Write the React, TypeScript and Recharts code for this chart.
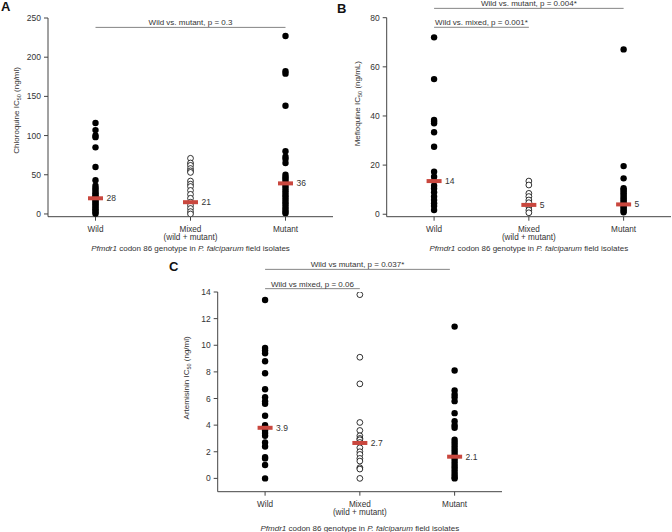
import React from 'react';
import { ScatterChart, Scatter, XAxis, YAxis, ReferenceLine } from 'recharts';

const FONT = 'Arial, "Liberation Sans", Helvetica, sans-serif';
const TEXT = '#333';
const AXIS = '#444';
const RED = '#c9473e';

const categories = ['Wild', 'Mixed', 'Mutant'];
const categoryNotes = ['', '(wild + mutant)', ''];

// A - chloroquine
const cqWild = [116, 107, 100, 98, 85, 60, 43, 36, 33, 31, 28, 26, 24, 22, 20, 18, 16, 14, 12, 10, 8, 6, 4, 2, 0];
const cqMixed = [71, 65, 62, 58, 55, 53, 42, 38, 35, 30, 25, 20, 15, 11, 7, 3, 0];
const cqMutant = [227, 182, 179, 138, 80, 73, 70, 65, 50, 47, 45, 42, 39, 36, 33, 30, 27, 24, 21, 18, 15, 12, 9, 6, 3, 1];
const cqMedians = [20, 15, 39];
const cqMedianLabels = ['28', '21', '36'];
const cqTicks = [0, 50, 100, 150, 200, 250];

// B - mefloquine
const mqWild = [72, 55, 38.4, 37.7, 37, 33.4, 27.5, 17.3, 15.3, 13.5, 11.6, 10.5, 9, 7.2, 5.8, 4.5, 3.4, 1.7];
const mqMixed = [13.5, 11.9, 8.5, 7.2, 5.8, 4.7, 3.1, 1.7, 0.6];
const mqMutant = [67.1, 19.6, 14.6, 10.6, 10, 9.3, 8.5, 7.8, 7, 6.3, 5.6, 4.9, 4.2, 3.5, 2.8, 2.1, 1.4, 0.8];
const mqMedians = [13.5, 3.8, 4];
const mqMedianLabels = ['14', '5', '5'];
const mqTicks = [0, 20, 40, 60, 80];

// C - artemisinin
const artWild = [13.4, 9.8, 9.6, 9.4, 8.8, 7.9, 6.7, 6.1, 5.8, 5.6, 4.7, 4.0, 3.6, 3.4, 3.2, 2.7, 2.4, 1.6, 1.5, 1.0, 0];
const artMixed = [13.8, 9.1, 7.1, 4.2, 3.6, 3.2, 3.0, 2.9, 2.7, 2.3, 2.0, 1.8, 1.5, 1.3, 0.8, 0.7, 0];
const artMutant = [11.4, 8.1, 6.6, 6.3, 6.1, 5.8, 4.9, 4.3, 4.0, 3.8, 2.9, 2.7, 2.5, 2.3, 2.1, 1.9, 1.7, 1.5, 1.3, 1.1, 0.9, 0.7, 0.5, 0.3, 0.1, 0];
const artMedians = [3.8, 2.66, 1.63];
const artMedianLabels = ['3.9', '2.7', '2.1'];
const artTicks = [0, 2, 4, 6, 8, 10, 12, 14];

type Pt = { x: number; y: number; label?: string };
const toPoints = (vals: number[], x: number): Pt[] => vals.map((y) => ({ x, y }));
const toMedians = (vals: number[], labels: string[]): Pt[] =>
  vals.map((y, i) => ({ x: i, y, label: labels[i] }));

const FilledDot = (p: any) => <circle cx={p.cx} cy={p.cy} r={3.2} fill="#000" />;
const OpenDot = (p: any) => (
  <circle cx={p.cx} cy={p.cy} r={2.9} fill="#fff" stroke="#000" strokeWidth={0.8} />
);
const MedianMark = (p: any) => (
  <g>
    <rect x={p.cx - 7.5} y={p.cy - 2} width={15} height={4} fill={RED} />
    <text x={p.cx + 11} y={p.cy + 3} fontSize={8.5} fill={TEXT} fontFamily={FONT}>
      {p.payload.label}
    </text>
  </g>
);

const CategoryTick = (props: any) => {
  const { x, y, payload } = props;
  const i = payload.value as number;
  return (
    <g>
      <text x={x} y={y + 9} textAnchor="middle" fontSize={8.2} fill={TEXT} fontFamily={FONT}>
        {categories[i]}
      </text>
      {categoryNotes[i] && (
        <text x={x} y={y + 17.5} textAnchor="middle" fontSize={8.2} fill={TEXT} fontFamily={FONT}>
          {categoryNotes[i]}
        </text>
      )}
    </g>
  );
};

type Comparison = { from: number; to: number; level: number; text: string };

type PanelProps = {
  letter: string;
  letterPos: [number, number];
  left: number;
  top: number;
  width: number;
  height: number;
  margin: { top: number; right: number; bottom: number; left: number };
  yAxisWidth: number;
  yDomain: [number, number];
  yTicks: number[];
  drug: string;
  unit: string;
  yTitleGap: number;
  yTitleShift: number;
  xTitleGap: number;
  wild: number[];
  mixed: number[];
  mutant: number[];
  medians: Pt[];
  comparisons: Comparison[];
};

function Panel(p: PanelProps) {
  const yTitle = (props: any) => {
    const vb = props.viewBox;
    const cx = vb.x + vb.width - p.yTitleGap;
    const cy = vb.y + vb.height / 2 + p.yTitleShift;
    return (
      <text
        x={cx}
        y={cy}
        transform={`rotate(-90, ${cx}, ${cy})`}
        textAnchor="middle"
        fontSize={8}
        fill={TEXT}
        fontFamily={FONT}
      >
        {p.drug} IC
        <tspan fontSize={5.5} dy={2}>
          50
        </tspan>
        <tspan dy={-2}> {p.unit}</tspan>
      </text>
    );
  };

  const xTitle = (props: any) => {
    const vb = props.viewBox;
    return (
      <text
        x={vb.x + vb.width / 2}
        y={vb.y + p.xTitleGap}
        textAnchor="middle"
        fontSize={8}
        fill={TEXT}
        fontFamily={FONT}
      >
        <tspan fontStyle="italic">Pfmdr1</tspan> codon 86 genotype in{' '}
        <tspan fontStyle="italic">P. falciparum</tspan> field isolates
      </text>
    );
  };

  return (
    <div style={{ position: 'absolute', left: p.left, top: p.top, width: p.width, height: p.height }}>
      <div
        style={{
          position: 'absolute',
          left: p.letterPos[0],
          top: p.letterPos[1],
          fontFamily: FONT,
          fontWeight: 'bold',
          fontSize: 13,
          lineHeight: '13px',
          color: '#111',
        }}
      >
        {p.letter}
      </div>
      <ScatterChart width={p.width} height={p.height} margin={p.margin} style={{ overflow: 'visible' }}>
        <XAxis
          type="number"
          dataKey="x"
          domain={[-0.5, 2.5]}
          ticks={[0, 1, 2]}
          allowDataOverflow
          height={30}
          tickSize={4}
          tickMargin={2}
          stroke={AXIS}
          tick={<CategoryTick />}
          label={{ content: xTitle }}
        />
        <YAxis
          type="number"
          dataKey="y"
          domain={p.yDomain}
          ticks={p.yTicks}
          allowDataOverflow
          width={p.yAxisWidth}
          tickSize={4}
          tickMargin={3}
          stroke={AXIS}
          tick={{ fontSize: 8.5, fill: TEXT, fontFamily: FONT }}
          label={{ content: yTitle }}
        />
        {p.comparisons.map((c, i) => (
          <ReferenceLine
            key={i}
            segment={[
              { x: c.from, y: c.level },
              { x: c.to, y: c.level },
            ]}
            ifOverflow="visible"
            stroke="#777"
            strokeWidth={0.9}
            label={{ value: c.text, position: 'top', offset: 2, fontSize: 8, fill: TEXT, fontFamily: FONT }}
          />
        ))}
        <Scatter data={toPoints(p.wild, 0)} shape={FilledDot} isAnimationActive={false} />
        <Scatter data={toPoints(p.mixed, 1)} shape={OpenDot} isAnimationActive={false} />
        <Scatter data={toPoints(p.mutant, 2)} shape={FilledDot} isAnimationActive={false} />
        <Scatter data={p.medians} shape={MedianMark} isAnimationActive={false} />
      </ScatterChart>
    </div>
  );
}

export default function App() {
  return (
    <div
      style={{
        position: 'absolute',
        left: 0,
        top: 0,
        width: 672,
        height: 532,
        background: '#fff',
        overflow: 'hidden',
      }}
    >
      <Panel
        letter="A"
        letterPos={[1, 0]}
        left={0}
        top={0}
        width={336}
        height={266}
        margin={{ top: 18, right: 3, bottom: 19.3, left: 0 }}
        yAxisWidth={48}
        yDomain={[-3.5, 250]}
        yTicks={cqTicks}
        drug="Chloroquine"
        unit="(ng/ml)"
        yTitleGap={29}
        yTitleShift={-7}
        xTitleGap={34}
        wild={cqWild}
        mixed={cqMixed}
        mutant={cqMutant}
        medians={toMedians(cqMedians, cqMedianLabels)}
        comparisons={[{ from: 0, to: 2, level: 238, text: 'Wild vs. mutant, p = 0.3' }]}
      />
      <Panel
        letter="B"
        letterPos={[1, 2]}
        left={336}
        top={0}
        width={336}
        height={266}
        margin={{ top: 17.7, right: 1, bottom: 19.3, left: 0 }}
        yAxisWidth={50.7}
        yDomain={[-1, 80]}
        yTicks={mqTicks}
        drug="Mefloquine"
        unit="(ng/mL)"
        yTitleGap={27}
        yTitleShift={-13.5}
        xTitleGap={34}
        wild={mqWild}
        mixed={mqMixed}
        mutant={mqMutant}
        medians={toMedians(mqMedians, mqMedianLabels)}
        comparisons={[
          { from: 0, to: 2, level: 83.8, text: 'Wild vs. mutant, p = 0.004*' },
          { from: 0, to: 1, level: 76.1, text: 'Wild vs. mixed, p = 0.001*' },
        ]}
      />
      <Panel
        letter="C"
        letterPos={[19, 4]}
        left={150}
        top={256}
        width={360}
        height={276}
        margin={{ top: 36, right: 8, bottom: 10.3, left: 0 }}
        yAxisWidth={67.7}
        yDomain={[-1, 14]}
        yTicks={artTicks}
        drug="Artemisinin"
        unit="(ng/ml)"
        yTitleGap={29}
        yTitleShift={-14}
        xTitleGap={39}
        wild={artWild}
        mixed={artMixed}
        mutant={artMutant}
        medians={toMedians(artMedians, artMedianLabels)}
        comparisons={[
          { from: 0, to: 1.95, level: 15.7, text: 'Wild vs mutant, p = 0.037*' },
          { from: 0, to: 1, level: 14.25, text: 'Wild vs mixed, p = 0.06' },
        ]}
      />
    </div>
  );
}
